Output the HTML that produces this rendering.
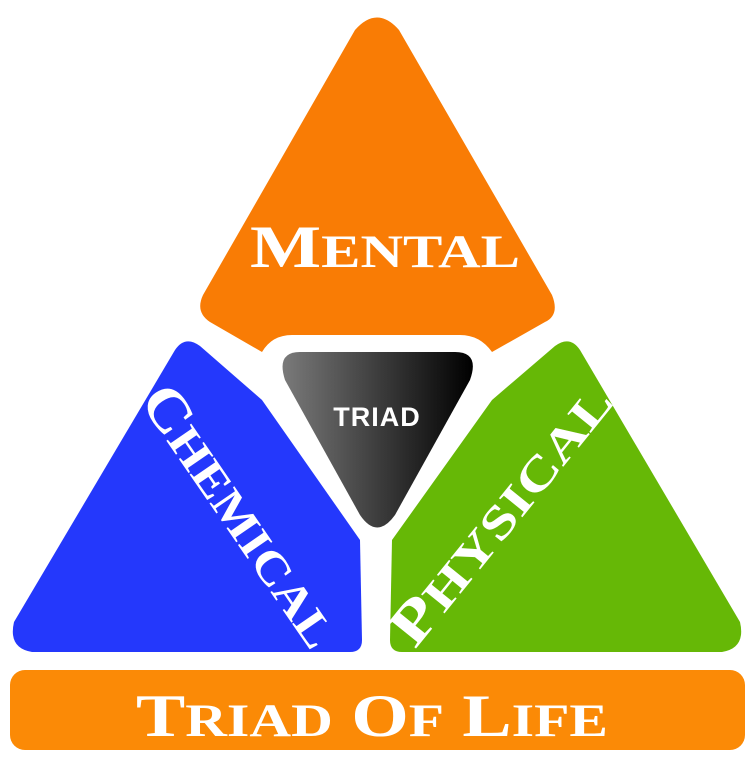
<!DOCTYPE html>
<html><head><meta charset="utf-8"><style>
html,body{margin:0;padding:0;background:#fff;}
svg{display:block}
text{font-family:"Liberation Serif",serif;font-weight:bold;fill:#fff;}
</style></head><body>
<svg width="755" height="771" viewBox="0 0 755 771" xmlns="http://www.w3.org/2000/svg">
<defs>
<linearGradient id="g" x1="0" x2="1" y1="0" y2="0">
<stop offset="0" stop-color="#7a7a7a"/><stop offset="1" stop-color="#000"/>
</linearGradient>
</defs>
<path d="M355,30 Q377,5 399,30 L552,295 Q560,315 545,322 L492,352 Q480,335 460,335 L292,335 Q272,335 262,352 L210,322 Q195,312 203,295 Z" fill="#f97c05"/>
<path d="M175,350 Q185,335 200,346 L262,400 L360,540 L362,640 Q362,652 350,652 L32,652 Q8,648 14,622 Z" fill="#2438fc"/>
<path d="M580,350 Q570,335 555,346 L492,400 L392,540 L390,640 Q390,652 402,652 L722,652 Q746,648 740,622 Z" fill="#66b806"/>
<path d="M300,352 L455,352 Q480,352 470,380 L395,515 Q377,540 360,515 L285,380 Q276,352 300,352 Z" fill="url(#g)"/>
<text x="377" y="426" text-anchor="middle" style="font-family:'Liberation Sans',sans-serif;font-size:27px;letter-spacing:1px">TRIAD</text>
<rect x="10" y="670" width="735" height="80" rx="15" fill="#fb8a06"/>
<text x="136" y="736" font-size="60" textLength="472" lengthAdjust="spacingAndGlyphs">T<tspan font-size="47">RIAD</tspan> O<tspan font-size="47">F</tspan> L<tspan font-size="47">IFE</tspan></text>
<text x="250" y="267" font-size="60" textLength="270" lengthAdjust="spacingAndGlyphs">M<tspan font-size="47">ENTAL</tspan></text>
<text transform="translate(240,516) rotate(55.5)" text-anchor="middle" font-size="58" textLength="305" lengthAdjust="spacingAndGlyphs" y="18">C<tspan font-size="46">HEMICAL</tspan></text>
<text transform="translate(501,515) rotate(-51)" text-anchor="middle" font-size="58" textLength="318" lengthAdjust="spacingAndGlyphs" y="18">P<tspan font-size="46">HYSICAL</tspan></text>
</svg>
</body></html>
